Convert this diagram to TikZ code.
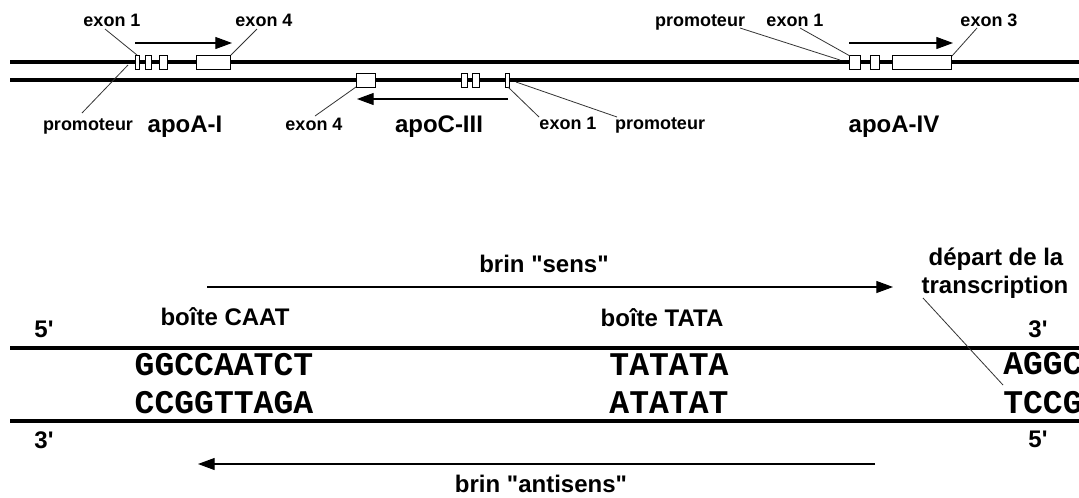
\documentclass[tikz,border=0pt]{standalone}
\usepackage{fontspec}
\setmainfont{Liberation Sans}
\setmonofont{Liberation Mono}
\usetikzlibrary{arrows.meta}
\tikzset{
  strand/.style={line width=2.4pt, line cap=butt},
  exon/.style={draw, fill=white, line width=0.75pt, minimum height=10.5pt, inner sep=0pt, outer sep=0pt},
  lbl/.style={font=\bfseries\fontsize{13.5}{16}\selectfont, inner sep=0pt, anchor=base},
  gene/.style={font=\bfseries\fontsize{18}{21}\selectfont, inner sep=0pt, anchor=base},
  seq/.style={font=\ttfamily\bfseries\fontsize{24.8}{28}\selectfont, inner sep=0pt, anchor=base},
  leader/.style={line width=0.6pt, black!80},
  dir/.style={line width=0.8pt, -{Triangle[length=12.5pt,width=9pt]}}
}
\begin{document}
\begin{tikzpicture}[x=0.75pt,y=-0.75pt]
\clip (0,0) rectangle (1079,497);
\fill[white] (0,0) rectangle (1079,497);

% ---------- top: chromosome strands ----------
\coordinate (s1l) at (10,62);  \coordinate (s1r) at (1085,62);
\coordinate (s2l) at (10,80);  \coordinate (s2r) at (1085,80);
\draw[strand] (s1l) -- (s1r);
\draw[strand] (s2l) -- (s2r);

% apoA-I exons
\node[exon, minimum width=3pt]    (a1e1) at (137.5,62) {};
\node[exon, minimum width=4.5pt]  (a1e2) at (148.5,62) {};
\node[exon, minimum width=6pt]    (a1e3) at (163,62) {};
\node[exon, minimum width=25.5pt] (a1e4) at (213,62) {};
% apoC-III exons
\node[exon, minimum width=14.25pt] (c3e4) at (365.5,80) {};
\node[exon, minimum width=4.5pt]   (c3e3) at (464.5,80) {};
\node[exon, minimum width=5.25pt]  (c3e2) at (475.5,80) {};
\node[exon, minimum width=3pt]     (c3e1) at (507,80) {};
% apoA-IV exons
\node[exon, minimum width=8.25pt]  (a4e1) at (854.5,62) {};
\node[exon, minimum width=6.75pt]  (a4e2) at (874.5,62) {};
\node[exon, minimum width=44.25pt] (a4e3) at (921.5,62) {};

% transcription direction arrows
\coordinate (a1s) at (135,43); \coordinate (a1t) at (232,43);
\coordinate (c3s) at (508,99); \coordinate (c3t) at (357,99);
\coordinate (a4s) at (849,43); \coordinate (a4t) at (953,43);
\draw[dir] (a1s) -- (a1t);
\draw[dir] (c3s) -- (c3t);
\draw[dir] (a4s) -- (a4t);

% labels
\node[lbl] (l_a1e1) at (112,26) {exon 1};
\node[lbl] (l_a1e4) at (264,26) {exon 4};
\node[lbl] (l_a1p)  at (88,130) {promoteur};
\node[gene] (g_a1)  at (185,132) {apoA-I};
\node[lbl] (l_c3e4) at (314,130) {exon 4};
\node[gene] (g_c3)  at (439,132) {apoC-III};
\node[lbl] (l_c3e1) at (568,129) {exon 1};
\node[lbl] (l_c3p)  at (660,129) {promoteur};
\node[gene] (g_a4)  at (894,132) {apoA-IV};
\node[lbl] (l_a4p)  at (700,26) {promoteur};
\node[lbl] (l_a4e1) at (795,26) {exon 1};
\node[lbl] (l_a4e3) at (989,26) {exon 3};

% leader lines
\coordinate (k1) at (105,29);  \coordinate (k1e) at (137,55);
\coordinate (k2) at (257,29);  \coordinate (k2e) at (231,55);
\coordinate (k3) at (82,113);  \coordinate (k3e) at (128,65);
\coordinate (k4) at (315,116); \coordinate (k4e) at (356,87);
\coordinate (k5) at (539,117); \coordinate (k5e) at (508,87);
\coordinate (k6) at (617,117); \coordinate (k6e) at (516,82);
\coordinate (k7) at (740,28);  \coordinate (k7e) at (840,60);
\coordinate (k8) at (800,28);  \coordinate (k8e) at (850,56);
\coordinate (k9) at (977,28);  \coordinate (k9e) at (952,56);
\draw[leader] (k1) -- (k1e);
\draw[leader] (k2) -- (k2e);
\draw[leader] (k3) -- (k3e);
\draw[leader] (k4) -- (k4e);
\draw[leader] (k5) -- (k5e);
\draw[leader] (k6) -- (k6e);
\draw[leader] (k7) -- (k7e);
\draw[leader] (k8) -- (k8e);
\draw[leader] (k9) -- (k9e);

% ---------- bottom: promoter sequence ----------
\node[gene] (sens) at (544,272) {brin \textquotedbl sens\textquotedbl};
\coordinate (ss) at (207,287); \coordinate (st) at (893,287);
\draw[dir] (ss) -- (st);

\node[gene] (caat) at (225,325) {boîte CAAT};
\node[gene] (tata) at (662,326) {boîte TATA};
\node[gene] (p5a) at (44,337) {5\textquotesingle};
\node[gene] (p3a) at (1038,337) {3\textquotesingle};
\node[gene] (dep1) at (996,265) {départ de la};
\node[gene] (dep2) at (995,293) {transcription};

\coordinate (b1l) at (10,348); \coordinate (b1r) at (1085,348);
\coordinate (b2l) at (10,421); \coordinate (b2r) at (1085,421);
\draw[strand] (b1l) -- (b1r);
\draw[strand] (b2l) -- (b2r);

\node[seq] (q1) at (224,375) {GGCCAATCT};
\node[seq] (q2) at (224,413) {CCGGTTAGA};
\node[seq] (q3) at (669,375) {TATATA};
\node[seq] (q4) at (669,413) {ATATAT};
\node[seq, anchor=base west] (q5) at (1003,374) {AGGC};
\node[seq, anchor=base west] (q6) at (1003,413) {TCCG};

\coordinate (dl) at (923,298); \coordinate (dle) at (1003,385);
\draw[leader] (dl) -- (dle);

\node[gene] (p3b) at (44,448) {3\textquotesingle};
\node[gene] (p5b) at (1038,447) {5\textquotesingle};

\coordinate (as) at (875,464); \coordinate (at) at (198,464);
\draw[dir] (as) -- (at);
\node[gene] (anti) at (541,492) {brin \textquotedbl antisens\textquotedbl};
\end{tikzpicture}
\end{document}
